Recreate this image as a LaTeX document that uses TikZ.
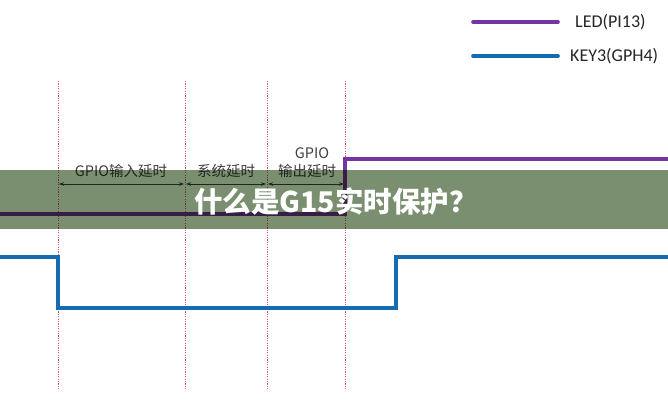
\documentclass[tikz,border=0pt]{standalone}
\usepackage{fontspec}
\setmainfont{Carlito}
\newfontfamily\cjk{Noto Sans CJK SC}
\usetikzlibrary{arrows.meta}
\definecolor{ledc}{RGB}{118,52,160}
\definecolor{keyc}{RGB}{22,108,178}
\definecolor{guide}{RGB}{222,90,100}
\definecolor{bandc}{RGB}{122,143,112}
\definecolor{dimc}{RGB}{60,70,60}
\tikzset{
  guideline/.style={draw=guide, line width=0.8pt, dash pattern=on 1.2pt off 1.2pt},
  ledline/.style={draw=ledc, line width=3.4pt},
  keyline/.style={draw=keyc, line width=3.8pt},
  dimarrow/.style={draw=dimc, line width=0.8pt, {Stealth[length=5pt,width=3.5pt]}-{Stealth[length=5pt,width=3.5pt]}},
  lbl/.style={font=\cjk\fontsize{14.5}{14.5}\selectfont, text=black!75, inner sep=0pt},
  legtext/.style={font=\fontsize{18}{18}\selectfont, text=black!85, anchor=west, inner sep=0pt},
}
\begin{document}
\begin{tikzpicture}[x=1pt,y=-1pt]
\useasboundingbox (0,0) rectangle (668,400);
\fill[white] (0,0) rectangle (668,400);
% guide lines
\foreach \n/\x in {g1/58,g2/185,g3/267,g4/345}{
  \coordinate (\n t) at (\x,81);
  \coordinate (\n b) at (\x,390);
  \draw[guideline] (\n t) -- (\n b);
}
% LED signal
\coordinate (l0) at (0,214);
\coordinate (l1) at (345,214);
\coordinate (l2) at (345,159);
\coordinate (l3) at (668,159);
\draw[ledline] (l0) -- (l1) -- (l2) -- (l3);
% KEY signal
\coordinate (k0) at (0,257);
\coordinate (k1) at (58,257);
\coordinate (k2) at (58,308);
\coordinate (k3) at (396,308);
\coordinate (k4) at (396,257);
\coordinate (k5) at (668,257);
\draw[keyline] (k0) -- (k1) -- (k2) -- (k3) -- (k4) -- (k5);
% dimension arrows
\coordinate (a1) at (59,184);
\coordinate (a2) at (184,184);
\coordinate (a3) at (186,184);
\coordinate (a4) at (266,184);
\coordinate (a5) at (268,184);
\coordinate (a6) at (344,184);
\draw[dimarrow] (a1) -- (a2);
\draw[dimarrow] (a3) -- (a4);
\draw[dimarrow] (a5) -- (a6);
\node[lbl] (t1) at (121,171) {GPIO输入延时};
\node[lbl] (t2) at (226,171) {系统延时};
\node[lbl] (t3) at (312,153) {GPIO};
\node[lbl] (t4) at (307,171) {输出延时};
% legend
\coordinate (p1) at (473,22);
\coordinate (p2) at (558,22);
\coordinate (b1) at (473,56);
\coordinate (b2) at (558,56);
\draw[ledc, line width=3.6pt, line cap=round] (p1) -- (p2);
\draw[keyc, line width=3.6pt, line cap=round] (b1) -- (b2);
\node[legtext] (lg1) at (575,22) {LED(PI13)};
\node[legtext] (lg2) at (570,56) {KEY3(GPH4)};
% overlay band
\fill[bandc, blend mode=multiply] (0,170) rectangle (668,229);
\node[font=\cjk\bfseries\fontsize{28.5}{28.5}\selectfont, text=white, inner sep=0pt] (title) at (336,201) {什么是G15实时保护？};
\end{tikzpicture}
\end{document}
